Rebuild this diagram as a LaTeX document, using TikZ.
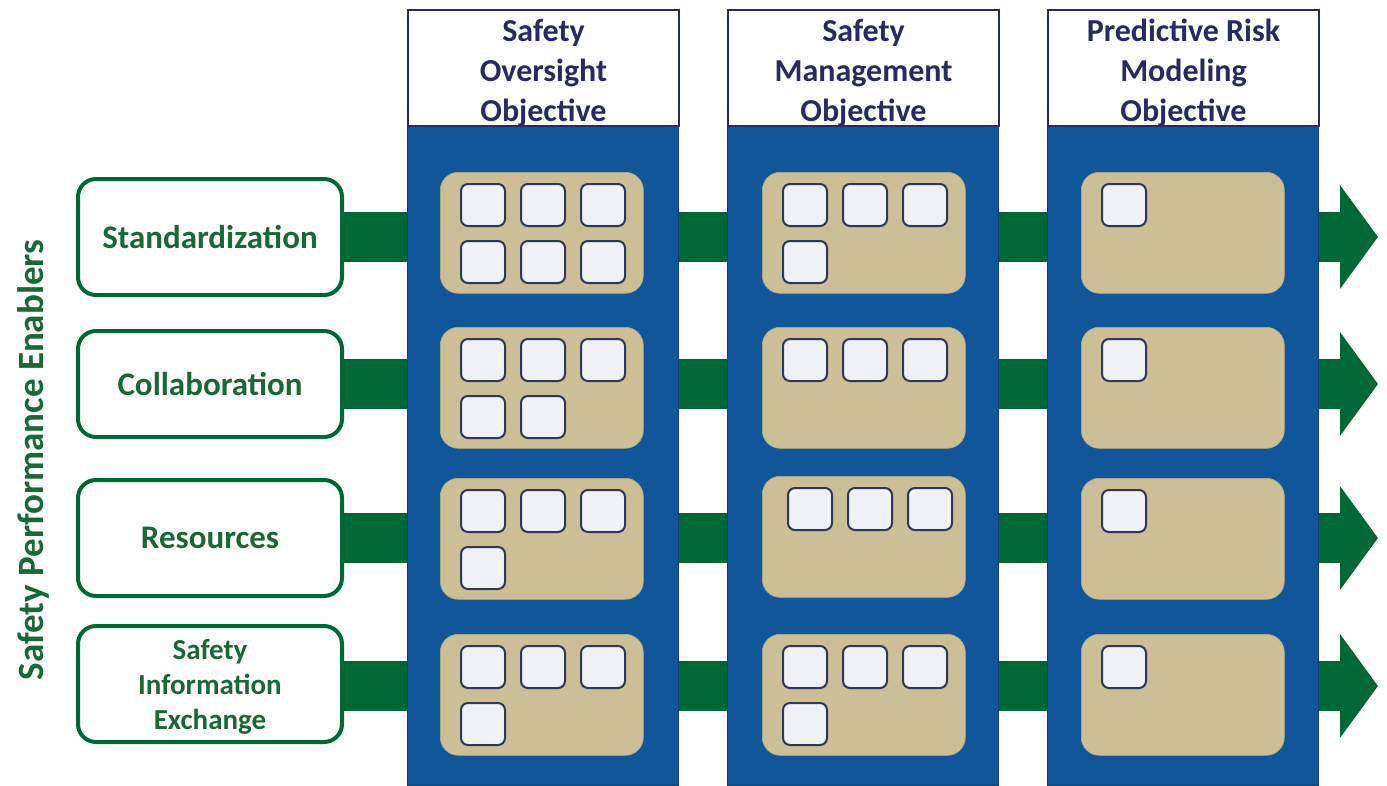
\documentclass[tikz,border=0pt]{standalone}
\usepackage{fontspec}
\setmainfont{Carlito}
\usetikzlibrary{arrows.meta}
\definecolor{colblue}{RGB}{17,86,152}
\definecolor{hdnavy}{RGB}{38,44,96}
\definecolor{bargreen}{RGB}{0,104,55}
\definecolor{txtgreen}{RGB}{26,104,56}
\definecolor{tan}{RGB}{204,190,150}
\definecolor{sqfill}{RGB}{240,241,246}
\definecolor{sqdraw}{RGB}{45,55,88}
\begin{document}
\begin{tikzpicture}[x=1pt,y=-1pt,
  colbody/.style={fill=colblue, draw=colblue!75!black, line width=1.2pt, minimum width=271pt, minimum height=660pt, anchor=north west, inner sep=0pt},
  headbox/.style={fill=white, draw=hdnavy, line width=2pt, minimum width=271pt, minimum height=116pt, anchor=north west, inner sep=0pt},
  headtext/.style={font=\bfseries\fontsize{32}{40}\selectfont, text=hdnavy, align=center, inner sep=0pt},
  enabler/.style={fill=white, draw=bargreen, line width=4pt, rounded corners=18pt, minimum width=264pt, inner sep=0pt, font=\bfseries\fontsize{33}{40}\selectfont, text=txtgreen, align=center},
  entext/.style={font=\bfseries\fontsize{29}{35}\selectfont, text=txtgreen, align=center, inner sep=0pt},
  tanbox/.style={fill=tan, draw=tan!90!black, line width=0.6pt, rounded corners=18pt, minimum width=203pt, minimum height=121pt, anchor=north west, inner sep=0pt},
  sq/.style={fill=sqfill, draw=sqdraw, line width=2pt, rounded corners=7pt, minimum width=44pt, minimum height=42pt, anchor=north west, inner sep=0pt},
  bar/.style={draw=bargreen, line width=50pt, -{Triangle[length=38pt,width=102pt]}}
]
\useasboundingbox (0,0) rectangle (1387,785);
\fill[white] (0,0) rectangle (1387,785);

% vertical label
\node[rotate=90, font=\bfseries\fontsize{37}{44}\selectfont, text=txtgreen] (lbl) at (33,460) {Safety Performance Enablers};

% enablers
\node[enabler, minimum height=116pt] (e1) at (210,237) {Standardization};
\node[enabler, minimum height=106pt] (e2) at (210,384) {Collaboration};
\node[enabler, minimum height=116pt] (e3) at (210,538) {Resources};
\node[enabler, minimum height=116pt] (e4) at (210,684) {};
\node[entext, yshift=-3pt] (e4t) at (e4.center) {Safety\\Information\\Exchange};

% arrow bars
\coordinate (a1) at (1378,237);
\coordinate (a2) at (1378,384);
\coordinate (a3) at (1378,538);
\coordinate (a4) at (1378,686);
\draw[bar] (e1.east) -- (a1);
\draw[bar] (e2.east) -- (a2);
\draw[bar] (e3.east) -- (a3);
\draw[bar] (e4.east |- a4) -- (a4);

% columns
\foreach \c/\x/\t in {1/407/{Safety\\Oversight\\Objective}, 2/727/{Safety\\Management\\Objective}, 3/1047/{Predictive Risk\\Modeling\\Objective}}{
  \node[colbody] (b\c) at (\x,125) {};
  \node[headbox] (h\c) at (\x,9) {};
  \node[headtext, yshift=-5pt] (ht\c) at (h\c.center) {\t};
}

% tan boxes and squares
\foreach \c/\r/\tx/\ty/\n/\dx in {
  1/1/440/172/6/0, 1/2/440/327/5/0, 1/3/440/478/4/0, 1/4/440/634/4/0,
  2/1/762/172/4/0, 2/2/762/327/3/0, 2/3/762/476/3/5, 2/4/762/634/4/0,
  3/1/1081/172/1/0, 3/2/1081/327/1/0, 3/3/1081/478/1/0, 3/4/1081/634/1/0}{
  \node[tanbox] (t\c\r) at (\tx,\ty) {};
  \foreach \k in {1,...,\n}{
    \pgfmathtruncatemacro\cc{mod(\k-1,3)}
    \pgfmathtruncatemacro\rr{(\k-1)/3}
    \node[sq] (s\c\r\k) at (\tx+20+\dx+\cc*60, \ty+11+\rr*57) {};
  }
}
\end{tikzpicture}
\end{document}
